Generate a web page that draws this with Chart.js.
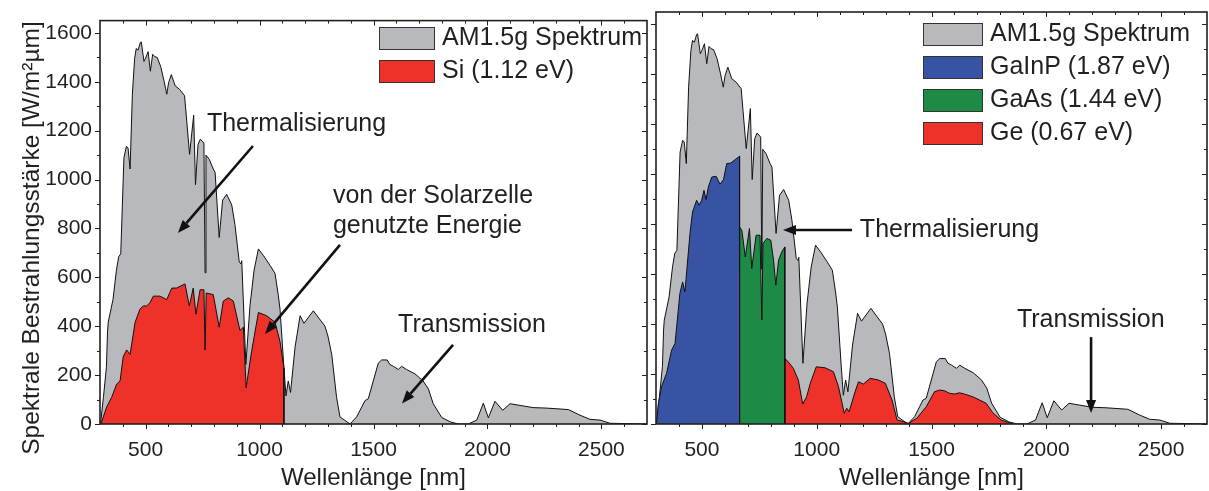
<!DOCTYPE html>
<html lang="de">
<head>
<meta charset="utf-8">
<title>AM1.5g Spektrum – Si und GaInP/GaAs/Ge</title>
<script src="https://cdn.jsdelivr.net/npm/chart.js@4.4.1/dist/chart.umd.min.js"></script>
<style>
  html, body { margin: 0; padding: 0; background: #fff; }
  body { width: 1209px; height: 491px; position: relative; overflow: hidden; }
  canvas { position: absolute; top: 0; }
  #leftChart { left: 0; }
  #rightChart { left: 650px; }
</style>
</head>
<body>
<canvas id="leftChart" width="652" height="491"></canvas>
<canvas id="rightChart" width="559" height="491"></canvas>
<script>
// AM1.5g spectrum (nm / W/m²µm)
const amWl = [302, 315, 328, 333, 336, 357, 372, 382, 391, 405, 416, 423, 432, 442, 452, 459, 467, 477, 481, 493,
  500, 511, 521, 531, 540, 551, 566, 581, 593, 601, 613, 630, 649, 671, 679, 693, 711, 719, 730, 740,
  756, 761, 765, 779, 797, 805, 823, 838, 856, 878, 892, 911, 918, 922, 940, 958, 976, 995, 1017, 1046,
  1068, 1082, 1090, 1107, 1116, 1126, 1136, 1156, 1178, 1195, 1236, 1287, 1300, 1317, 1338, 1353, 1397, 1426, 1463, 1477,
  1499, 1521, 1536, 1560, 1572, 1587, 1609, 1623, 1645, 1682, 1718, 1741, 1762, 1799, 1836, 1872, 1916, 1953, 1982, 2004,
  2033, 2067, 2099, 2143, 2201, 2260, 2355, 2406, 2450, 2494, 2538, 2700];
const amVal = [0, 109, 230, 376, 416, 509, 629, 684, 696, 1089, 1136, 1129, 1043, 1349, 1496, 1536, 1529, 1560, 1563, 1483,
  1496, 1523, 1443, 1512, 1503, 1499, 1463, 1403, 1349, 1396, 1429, 1383, 1369, 1343, 1256, 1103, 1263, 979, 1143, 1165,
  1149, 619, 1100, 1083, 1043, 1029, 763, 916, 939, 896, 816, 663, 655, 668, 243, 484, 629, 716, 689, 649,
  616, 529, 469, 229, 115, 176, 129, 316, 443, 412, 463, 400, 360, 283, 109, 29, 0, 29, 96, 103,
  176, 249, 262, 262, 243, 236, 223, 236, 223, 205, 176, 143, 83, 27, 9, 0, 0, 16, 85, 25,
  93, 56, 83, 76, 67, 65, 59, 36, 19, 16, 3, 0];

// Si (1.12 eV) used energy
const siWl = [304, 329, 351, 373, 388, 402, 417, 432, 454, 475, 490, 505, 519, 534, 563, 593, 615, 636, 673, 692,
  709, 721, 739, 756, 761, 766, 797, 823, 841, 863, 885, 914, 929, 941, 965, 995, 1031, 1068, 1090, 1107, 1107];
const siVal = [0, 69, 109, 163, 176, 276, 303, 285, 416, 469, 483, 483, 496, 523, 523, 509, 556, 556, 573, 483,
  556, 449, 549, 549, 303, 536, 529, 396, 503, 516, 503, 383, 396, 149, 296, 456, 443, 416, 336, 229, 0];

// GaInP (1.87 eV) top cell
const gainpWl = [302, 310, 324, 346, 368, 383, 404, 416, 426, 448, 459, 477, 488, 499, 509, 518, 528, 543, 562, 579,
  594, 608, 626, 645, 664, 664];
const gainpVal = [0, 80, 149, 203, 296, 323, 523, 569, 529, 763, 849, 896, 876, 896, 936, 899, 949, 989, 992, 960,
  979, 1043, 1045, 1059, 1072, 0];

// GaAs (1.44 eV) middle cell
const gaasWl = [664, 664, 674, 689, 707, 717, 736, 753, 761, 766, 783, 800, 812, 822, 834, 848, 861, 861];
const gaasVal = [0, 789, 776, 669, 783, 623, 756, 756, 416, 723, 743, 736, 656, 556, 656, 689, 709, 0];

// Ge (0.67 eV) bottom cell
const geWl = [861, 861, 876, 898, 920, 939, 956, 972, 998, 1037, 1073, 1095, 1120, 1131, 1141, 1167, 1182, 1203, 1233, 1269,
  1299, 1328, 1350, 1378, 1400, 1436, 1477, 1513, 1535, 1557, 1578, 1600, 1622, 1643, 1680, 1716, 1738, 1767, 1803, 1854];
const geVal = [0, 263, 249, 223, 176, 80, 109, 163, 229, 225, 209, 149, 43, 63, 49, 129, 169, 160, 183, 176,
  163, 96, 16, 9, 3, 23, 69, 129, 136, 133, 123, 120, 125, 120, 109, 93, 83, 45, 16, 0];

// axis ticks
const xTickValues = [500, 1000, 1500, 2000, 2500];
const yTickValues = [0, 200, 400, 600, 800, 1000, 1200, 1400, 1600];
const xMin = 300, xMax = 2700, yMax = 1650;

const FONT = '"Liberation Sans", Arial, Helvetica, sans-serif';
const TEXT = '#231f20';
const GREY = '#b8b9bd', RED = '#ee3129', BLUE = '#3953a4', GREEN = '#1d8b45';

function arrow(ctx, x1, y1, x2, y2) {
  const ang = Math.atan2(y2 - y1, x2 - x1);
  const head = 13, half = 5;
  const bx = x2 - head * Math.cos(ang), by = y2 - head * Math.sin(ang);
  ctx.lineWidth = 2.6;
  ctx.beginPath(); ctx.moveTo(x1, y1); ctx.lineTo(bx, by); ctx.stroke();
  ctx.beginPath();
  ctx.moveTo(x2, y2);
  ctx.lineTo(bx + half * Math.sin(ang), by - half * Math.cos(ang));
  ctx.lineTo(bx - half * Math.sin(ang), by + half * Math.cos(ang));
  ctx.closePath(); ctx.fill();
}

// frame, inward/outward ticks, legend, annotations and y title
function decorPlugin(cfg) {
  return {
    id: 'panelDecor',
    afterDraw(chart) {
      const { ctx, chartArea: a, scales: { x, y } } = chart;
      ctx.save();
      ctx.strokeStyle = TEXT;
      ctx.lineWidth = 1;
      const seg = (x1, y1, x2, y2) => { ctx.beginPath(); ctx.moveTo(x1, y1); ctx.lineTo(x2, y2); ctx.stroke(); };
      for (let v = xMin + 100; v < xMax; v += 100) {
        const px = Math.round(x.getPixelForValue(v)) + 0.5;
        const len = v % 500 === 0 ? 5 : 3;
        seg(px, a.bottom, px, a.bottom + len);
        seg(px, a.top, px, a.top + len);
      }
      for (let v = 0; v <= 1600; v += 100) {
        const py = Math.round(y.getPixelForValue(v)) + 0.5;
        const len = v % 200 === 0 ? 5 : 3;
        seg(a.left - len, py, a.left, py);
        seg(a.right - len, py, a.right, py);
      }
      ctx.lineWidth = 1.6;
      ctx.strokeRect(a.left, a.top, a.right - a.left, a.bottom - a.top);

      // legend
      ctx.font = '25px ' + FONT;
      ctx.textBaseline = 'middle';
      ctx.textAlign = 'left';
      chart.data.datasets.forEach((ds, i) => {
        const top = cfg.legend.top + i * 33;
        ctx.fillStyle = ds.backgroundColor;
        ctx.fillRect(cfg.legend.left, top, cfg.legend.w, 22);
        ctx.lineWidth = 1;
        ctx.strokeStyle = '#333';
        ctx.strokeRect(cfg.legend.left + 0.5, top + 0.5, cfg.legend.w, 22);
        ctx.fillStyle = TEXT;
        ctx.fillText(ds.label, cfg.legend.left + cfg.legend.w + 8, top + 11);
      });

      // annotations
      ctx.fillStyle = TEXT;
      cfg.notes.forEach(n => {
        n.lines.forEach((t, k) => {
          ctx.fillText(t, x.getPixelForValue(n.at[0]), y.getPixelForValue(n.at[1]) + k * 30);
        });
      });
      ctx.strokeStyle = '#111';
      ctx.fillStyle = '#111';
      cfg.arrows.forEach(ar => {
        arrow(ctx, x.getPixelForValue(ar.from[0]), y.getPixelForValue(ar.from[1]),
          x.getPixelForValue(ar.to[0]), y.getPixelForValue(ar.to[1]));
      });

      if (cfg.yTitle) {
        ctx.fillStyle = TEXT;
        ctx.font = '24.5px ' + FONT;
        ctx.translate(39, 238);
        ctx.rotate(-Math.PI / 2);
        ctx.textAlign = 'center';
        ctx.textBaseline = 'alphabetic';
        ctx.fillText(cfg.yTitle, 0, 0);
      }
      ctx.restore();
    }
  };
}

function makePanel(id, series, cfg) {
  const ctx = document.getElementById(id).getContext('2d');
  return new Chart(ctx, {
    type: 'line',
    data: {
      datasets: series.map(s => ({
        label: s.label,
        data: s.wl.map((w, i) => ({ x: w, y: s.val[i] })),
        backgroundColor: s.color,
        borderColor: '#111',
        borderWidth: 1,
        fill: 'origin',
        pointRadius: 0,
        tension: 0,
        order: s.order
      }))
    },
    options: {
      responsive: false,
      animation: false,
      events: [],
      layout: { padding: cfg.padding },
      plugins: { legend: { display: false }, tooltip: { enabled: false } },
      scales: {
        x: {
          type: 'linear', min: xMin, max: xMax,
          afterBuildTicks: s => { s.ticks = xTickValues.map(v => ({ value: v })); },
          afterFit: s => { s.height = 67; },
          grid: { display: false, drawTicks: false },
          border: { display: false },
          ticks: { font: { family: FONT, size: 21 }, color: TEXT, padding: 14, maxRotation: 0, autoSkip: false,
            callback: v => String(v) },
          title: { display: true, text: 'Wellenlänge [nm]', color: TEXT,
            font: { family: FONT, size: 24, lineHeight: 1 }, padding: { top: 0, bottom: 1 } }
        },
        y: {
          min: 0, max: yMax,
          afterBuildTicks: s => { s.ticks = yTickValues.map(v => ({ value: v })); },
          afterFit: s => { s.width = cfg.yWidth; },
          grid: { display: false, drawTicks: false },
          border: { display: false },
          ticks: { display: cfg.yLabels, font: { family: FONT, size: 21 }, color: TEXT, padding: 8,
            callback: v => String(v) }
        }
      }
    },
    plugins: [decorPlugin(cfg)]
  });
}

makePanel('leftChart', [
  { label: 'AM1.5g Spektrum', wl: amWl, val: amVal, color: GREY, order: 2 },
  { label: 'Si (1.12 eV)', wl: siWl, val: siVal, color: RED, order: 1 }
], {
  padding: { left: 0, right: 5, top: 12, bottom: 0 },
  yWidth: 100,
  yLabels: true,
  yTitle: 'Spektrale Bestrahlungsstärke [W/m²µm]',
  legend: { left: 379, top: 27, w: 55 },
  notes: [
    { lines: ['Thermalisierung'], at: [769, 1225] },
    { lines: ['von der Solarzelle', 'genutzte Energie'], at: [1322, 933] },
    { lines: ['Transmission'], at: [1608, 404] }
  ],
  arrows: [
    { from: [971, 1137], to: [642, 781] },
    { from: [1353, 733], to: [1024, 368] },
    { from: [1849, 324], to: [1625, 84] }
  ]
});

makePanel('rightChart', [
  { label: 'AM1.5g Spektrum', wl: amWl, val: amVal, color: GREY, order: 2 },
  { label: 'GaInP (1.87 eV)', wl: gainpWl, val: gainpVal, color: BLUE, order: 1 },
  { label: 'GaAs (1.44 eV)', wl: gaasWl, val: gaasVal, color: GREEN, order: 1 },
  { label: 'Ge (0.67 eV)', wl: geWl, val: geVal, color: RED, order: 1 }
], {
  padding: { left: 0, right: 2, top: 12, bottom: 0 },
  yWidth: 6,
  yLabels: false,
  yTitle: null,
  legend: { left: 273, top: 23, w: 59 },
  notes: [
    { lines: ['Thermalisierung'], at: [1188, 777] },
    { lines: ['Transmission'], at: [1872, 417] }
  ],
  arrows: [
    { from: [1154, 777], to: [853, 777] },
    { from: [2195, 348], to: [2195, 44] }
  ]
});
</script>
</body>
</html>
